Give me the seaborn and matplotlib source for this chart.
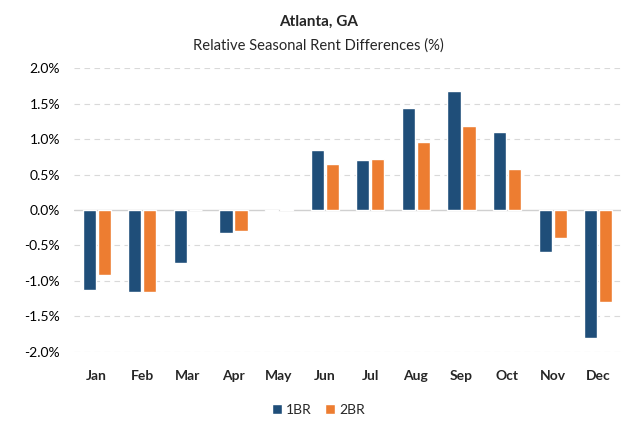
import matplotlib
matplotlib.use("Agg")
import matplotlib.pyplot as plt
import seaborn as sns
import pandas as pd
from matplotlib.ticker import FuncFormatter

months = ["Jan", "Feb", "Mar", "Apr", "May", "Jun", "Jul", "Aug", "Sep", "Oct", "Nov", "Dec"]
br1 = [-1.13, -1.15, -0.74, -0.32, -0.02, 0.84, 0.70, 1.44, 1.67, 1.10, -0.59, -1.81]
br2 = [-0.92, -1.16, 0.0, -0.29, 0.02, 0.65, 0.72, 0.96, 1.18, 0.58, -0.40, -1.29]
series = ["1BR", "2BR"]
yticks = [-2.0, -1.5, -1.0, -0.5, 0.0, 0.5, 1.0, 1.5, 2.0]

df = pd.DataFrame({
    "Month": months * 2,
    "Value": br1 + br2,
    "Type": [series[0]] * len(months) + [series[1]] * len(months),
})

sns.set_theme(style="white")
plt.rcParams['font.family'] = ['Lato', 'DejaVu Sans']

fig = plt.figure(figsize=(6.37, 4.28), dpi=100)
ax = fig.add_axes([0.116, 0.1776, 0.859, 0.6635])

sns.barplot(data=df, x="Month", y="Value", hue="Type", order=months,
            hue_order=series, palette=["#1F4E79", "#ED7D31"],
            width=0.66, gap=0.12, ax=ax, errorbar=None, saturation=1)

ax.set_ylim(-2.0, 2.0)
ax.set_xlim(-0.5, 11.5)
ax.set_yticks(yticks)
ax.yaxis.set_major_formatter(FuncFormatter(lambda v, p: f"{v:.1f}%"))
for y in yticks:
    if y == 0:
        ax.axhline(y, color="#D0D0D0", lw=1.0, zorder=0)
    else:
        ax.axhline(y, color="#D9D9D9", lw=0.8, ls=(0, (5, 4)), zorder=0)
for s in ax.spines.values():
    s.set_visible(False)
ax.set_xlabel("")
ax.set_ylabel("")
ax.tick_params(axis="y", labelsize=10, colors="#000000", length=0, pad=10)
ax.tick_params(axis="x", labelsize=10, length=0, pad=13)
ax.set_xticks(range(len(months)))
ax.set_xticklabels(months, fontweight="bold")

fig.text(0.5, 0.948, "Atlanta, GA", ha="center", va="center", fontsize=11, fontweight="bold")
fig.text(0.5, 0.893, "Relative Seasonal Rent Differences (%)", ha="center", va="center", fontsize=10.6)

leg = ax.legend(loc="center", bbox_to_anchor=((0.5 - 0.116) / 0.859, -0.205), ncol=2,
                frameon=False, fontsize=10, handlelength=0.7, handleheight=0.7,
                handletextpad=0.3, columnspacing=1.0)
fig.savefig("out.png", dpi=100)
